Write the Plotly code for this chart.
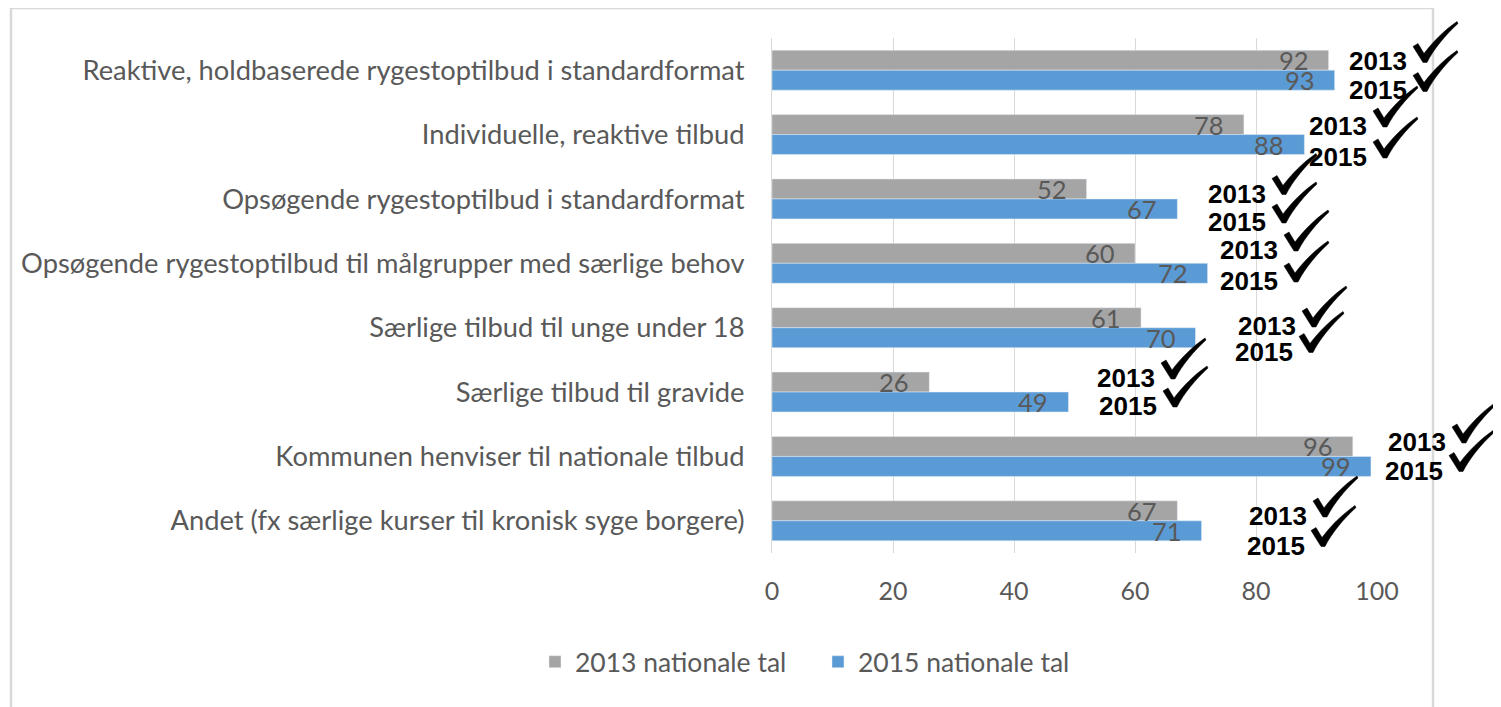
import plotly.graph_objects as go

categories = [
    "Reaktive, holdbaserede rygestoptilbud i standardformat",
    "Individuelle, reaktive tilbud",
    "Opsøgende rygestoptilbud i standardformat",
    "Opsøgende rygestoptilbud til målgrupper med særlige behov",
    "Særlige tilbud til unge under 18",
    "Særlige tilbud til gravide",
    "Kommunen henviser til nationale tilbud",
    "Andet (fx særlige kurser til kronisk syge borgere)",
]
values_2013 = [92, 78, 52, 60, 61, 26, 96, 67]
values_2015 = [93, 88, 67, 72, 70, 49, 99, 71]
series_names = ["2013 nationale tal", "2015 nationale tal"]
x_ticks = [0, 20, 40, 60, 80, 100]
stamp_labels = ["2013", "2015"]

# layout geometry in window pixels (the page body adds an 8px offset)
OFF = 8
WIN_W, WIN_H = 1501, 707
L, R, T, B = 772, 124, 38, 154          # plot-area edges in window pixels
W, H = WIN_W - OFF, WIN_H - OFF
PW, PH = WIN_W - L - R, WIN_H - T - B

def px2x(px):
    return (px - L) / PW

def py2y(py):
    return (WIN_H - B - py) / PH

GRAY = "#A5A5A5"
BLUE = "#5B9BD5"
TXT = "#595959"
FONT = "Lato"

fig = go.Figure()
fig.add_trace(go.Bar(y=categories, x=values_2013, name=series_names[0], orientation="h",
                     marker=dict(color=GRAY)))
fig.add_trace(go.Bar(y=categories, x=values_2015, name=series_names[1], orientation="h",
                     marker=dict(color=BLUE)))

annotations = []
for cat, v13, v15 in zip(categories, values_2013, values_2015):
    for v, ys in ((v13, 10), (v15, -10)):
        annotations.append(dict(x=v, y=cat, xref="x", yref="y", text=str(v), showarrow=False,
                                xanchor="right", yanchor="middle", xshift=-18, yshift=ys,
                                font=dict(family=FONT, size=25.5, color=TXT)))

# positions of the hand-added "year + check" stamps: (text right edge px, cap centre px)
stamp_pos = [
    [(1409, 61.5), (1409, 90.5)],
    [(1369, 126), (1369, 157)],
    [(1268, 193.5), (1268, 222)],
    [(1280, 250), (1280, 281)],
    [(1298, 326), (1295, 351.5)],
    [(1157, 378), (1159, 406)],
    [(1448, 442), (1445, 470.5)],
    [(1309, 516), (1307, 545.5)],
]
check_path = "M -11 15 L -6 18 L 0 8 C 9 20 20 31 33 40 L 34 38 C 22 27 10 13 3 -1 L -1 -1 Z"
shapes = []
for pair in stamp_pos:
    for lab, (rx, cy) in zip(stamp_labels, pair):
        annotations.append(dict(x=px2x(rx), y=py2y(cy), xref="paper", yref="paper", text=f"<b>{lab}</b>",
                                showarrow=False, xanchor="right", yanchor="middle",
                                font=dict(family="Liberation Sans, Arial", size=26, color="black")))
        shapes.append(dict(type="path", xref="paper", yref="paper", xsizemode="pixel", ysizemode="pixel",
                           xanchor=px2x(rx + 15), yanchor=py2y(cy), path=check_path,
                           fillcolor="black", line=dict(color="black", width=0.5)))

# outer chart frame
shapes.append(dict(type="rect", xref="paper", yref="paper", x0=px2x(11), x1=px2x(1433),
                   y0=py2y(712), y1=py2y(8), line=dict(color="#D9D9D9", width=2.5), layer="below"))

fig.update_layout(
    width=W, height=H,
    margin=dict(l=L - OFF, r=R, t=T - OFF, b=B, pad=0),
    paper_bgcolor="white", plot_bgcolor="white",
    barmode="group", bargap=0.38, bargroupgap=0,
    annotations=annotations, shapes=shapes,
    legend=dict(orientation="h", x=px2x(818), xanchor="center", y=py2y(662), yanchor="middle",
                font=dict(family=FONT, size=26.5, color=TXT), traceorder="normal",
                entrywidth=238, entrywidthmode="pixels"),
    xaxis=dict(range=[0, 100], tickvals=x_ticks, showgrid=True, gridcolor="#D9D9D9", gridwidth=1,
               zeroline=False, showline=False, ticks="", ticklabelstandoff=21,
               tickfont=dict(family=FONT, size=25, color=TXT), fixedrange=True),
    yaxis=dict(autorange="reversed", showline=True, linecolor="#D9D9D9", linewidth=1, ticks="",
               ticklabelstandoff=21, tickfont=dict(family=FONT, size=27.3, color=TXT),
               showgrid=False, fixedrange=True),
    showlegend=True,
)

fig.write_html("out.html")
